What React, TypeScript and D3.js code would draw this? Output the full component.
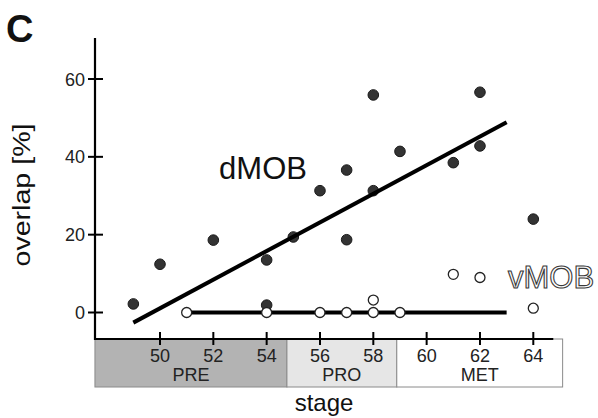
import React from "react";
import * as d3 from "d3";

const W = 598;
const H = 418;

// dMOB (filled) points: [stage, overlap %]
const dmobStages = [49, 50, 52, 54, 54, 55, 56, 57, 57, 58, 58, 59, 61, 62, 62, 64];
const dmobValues = [2.2, 12.4, 18.6, 13.5, 1.9, 19.4, 31.3, 36.6, 18.7, 55.9, 31.3, 41.4, 38.5, 56.6, 42.8, 24.0];

// vMOB (open) points
const vmobStages = [51, 54, 56, 57, 58, 58, 59, 61, 62, 64];
const vmobValues = [0, 0, 0, 0, 0, 3.2, 0, 9.8, 9.0, 1.1];

// regression lines [stage, value]
const dmobFitStages = [49, 63];
const dmobFitValues = [-2.6, 48.9];
const vmobFitStages = [51, 63];
const vmobFitValues = [0, 0];

const xTicks = [50, 52, 54, 56, 58, 60, 62, 64];
const yTicks = [0, 20, 40, 60];

const bandNames = ["PRE", "PRO", "MET"];
const bandStarts = [47.56, 54.76, 58.88];
const bandEnds = [54.76, 58.88, 65.1];
const bandColors = ["#b3b3b3", "#e6e6e6", "#ffffff"];

export default function App() {
  const x = d3.scaleLinear().domain([50, 64]).range([160, 533.3]);
  const y = d3.scaleLinear().domain([0, 60]).range([312.5, 79]);

  const axisY = 339;
  const axisX = 95;
  const line = d3
    .line<[number, number]>()
    .x((d) => x(d[0]))
    .y((d) => y(d[1]));

  const font = "Liberation Sans, Arial, Helvetica, sans-serif";

  return (
    <svg
      width={W}
      height={H}
      style={{ position: "absolute", left: 0, top: 0, background: "#fff" }}
      fontFamily={font}
    >
      <rect x={0} y={0} width={W} height={H} fill="#fff" />
      <text x={6} y={42} fontSize={38} fontWeight="bold" fill="#111">
        C
      </text>

      {/* stage bands */}
      {bandNames.map((n, i) => (
        <g key={n}>
          <rect
            x={x(bandStarts[i])}
            y={axisY}
            width={x(bandEnds[i]) - x(bandStarts[i])}
            height={48}
            fill={bandColors[i]}
            stroke="#8a8a8a"
            strokeWidth={1}
          />
          <text
            x={(x(bandStarts[i]) + x(bandEnds[i])) / 2}
            y={381}
            fontSize={18}
            textAnchor="middle"
            fill="#222"
          >
            {n}
          </text>
        </g>
      ))}

      {/* axes */}
      <line x1={axisX} x2={axisX} y1={38} y2={axisY + 1} stroke="#000" strokeWidth={2.2} />
      <line x1={axisX} x2={x(64.75)} y1={axisY} y2={axisY} stroke="#000" strokeWidth={2.2} />
      {yTicks.map((t) => (
        <g key={t}>
          <line x1={axisX - 7} x2={axisX + 8} y1={y(t)} y2={y(t)} stroke="#000" strokeWidth={2} />
          <text x={axisX - 10} y={y(t) + 6.5} fontSize={18} textAnchor="end" fill="#222">
            {t}
          </text>
        </g>
      ))}
      {xTicks.map((t) => (
        <g key={t}>
          <line x1={x(t)} x2={x(t)} y1={axisY - 7} y2={axisY + 6} stroke="#000" strokeWidth={2} />
          <text x={x(t)} y={362} fontSize={18} textAnchor="middle" fill="#222">
            {t}
          </text>
        </g>
      ))}

      {/* axis labels */}
      <text
        transform={`translate(30,195) rotate(-90)`}
        fontSize={23}
        textAnchor="middle"
        textLength={143}
        lengthAdjust="spacingAndGlyphs"
        fill="#111"
      >
        overlap [%]
      </text>
      <text x={324} y={411} fontSize={24} textAnchor="middle" fill="#111">
        stage
      </text>

      {/* dMOB points */}
      {dmobStages.map((s, i) => (
        <circle key={"d" + i} cx={x(s)} cy={y(dmobValues[i])} r={5.3} fill="#333" stroke="#1a1a1a" strokeWidth={1} />
      ))}

      {/* fit lines */}
      <path
        d={line(dmobFitStages.map((s, i) => [s, dmobFitValues[i]]) as [number, number][]) || ""}
        stroke="#000"
        strokeWidth={4}
        fill="none"
      />
      <path
        d={line(vmobFitStages.map((s, i) => [s, vmobFitValues[i]]) as [number, number][]) || ""}
        stroke="#000"
        strokeWidth={4}
        fill="none"
      />

      {/* vMOB points */}
      {vmobStages.map((s, i) => (
        <circle key={"v" + i} cx={x(s)} cy={y(vmobValues[i])} r={5} fill="#fff" stroke="#222" strokeWidth={1.3} />
      ))}

      {/* series labels */}
      <text x={263} y={179} fontSize={31} textAnchor="middle" fill="#111">
        dMOB
      </text>
      <text x={508} y={288} fontSize={31} fill="#ffffff" stroke="#3a3a3a" strokeWidth={1.1}>
        vMOB
      </text>
    </svg>
  );
}
